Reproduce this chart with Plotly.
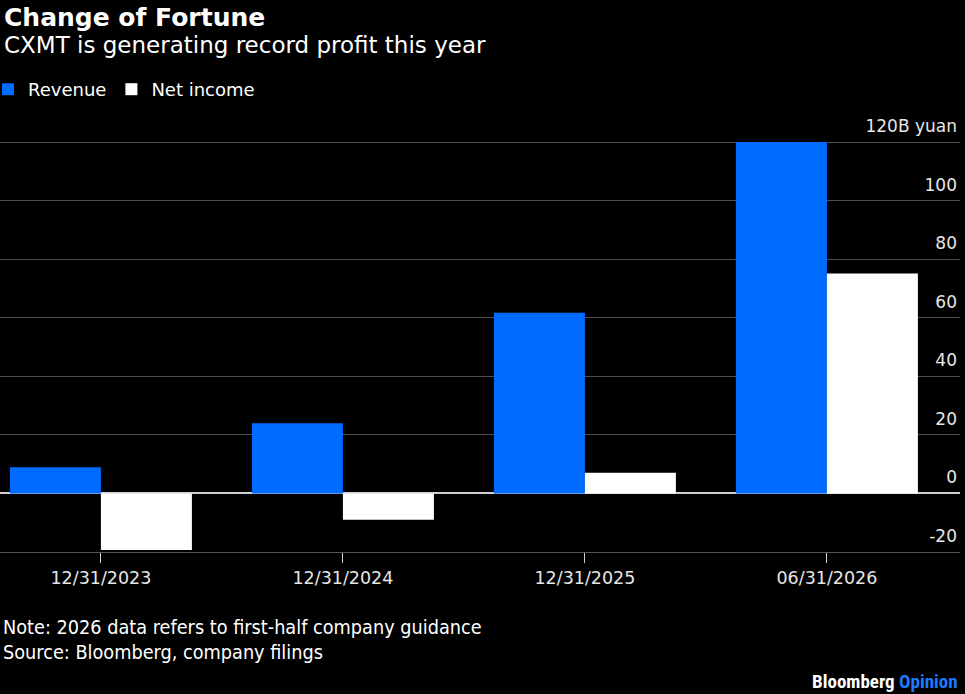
import plotly.graph_objects as go

categories = ["12/31/2023", "12/31/2024", "12/31/2025", "06/31/2026"]
revenue = [8.9, 24.0, 61.7, 120.0]
net_income = [-19.3, -9.0, 7.1, 75.1]
y_tickvals = [-20, 0, 20, 40, 60, 80, 100, 120]
y_ticktext = ["-20", "0", "20", "40", "60", "80", "100", "120B yuan"]

BLUE = "#006bff"
FONT = "DejaVu Sans, Verdana, sans-serif"
NOTE = "DejaVu Sans Condensed, Roboto, sans-serif"
NARROW = "Liberation Sans Narrow, Roboto Condensed, Roboto, sans-serif"

fig = go.Figure()
fig.add_trace(go.Bar(x=categories, y=revenue, name="Revenue", marker=dict(color=BLUE, line=dict(width=0))))
fig.add_trace(go.Bar(x=categories, y=net_income, name="Net income", marker=dict(color="#ffffff", line=dict(width=0))))

W, H = 965, 694
PT, PB = 139, 552  # plot area top/bottom in px
PW = 960
Y_TOP = 120 + (142 - PT) / ((PB - 142) / 140.0)


def py(px):
    return (PB - px) / (PB - PT)


fig.update_layout(
    width=W, height=H,
    paper_bgcolor="#000000", plot_bgcolor="#000000",
    margin=dict(l=0, r=W - PW, t=PT, b=H - PB, autoexpand=False),
    barmode="group", bargap=0.248, bargroupgap=0,
    showlegend=True,
    legend=dict(orientation="h", x=-12 / PW, xanchor="left", y=py(71), yanchor="top",
                font=dict(family=FONT, size=18, color="#ffffff"), bgcolor="rgba(0,0,0,0)",
                itemclick=False, itemwidth=30, traceorder="normal"),
    font=dict(family=FONT, color="#e6e6e6"),
)
fig.update_xaxes(
    type="category", range=[-0.417, 3.55],
    showgrid=False, showline=True, linecolor="#555555", linewidth=1,
    ticks="outside", ticklen=10, tickcolor="#cccccc", tickwidth=1,
    tickfont=dict(family=FONT, size=17.5, color="#e6e6e6"),
    zeroline=False, fixedrange=True,
)
fig.update_yaxes(
    range=[-20, Y_TOP], side="right",
    tickvals=y_tickvals, ticktext=y_ticktext,
    ticklabelposition="inside top", ticklabeloverflow="allow", ticklabelshift=-4,
    tickfont=dict(family=FONT, size=17, color="#e6e6e6"),
    showgrid=True, gridcolor="#4d4d4d", gridwidth=1,
    zeroline=True, zerolinecolor="#cfcfcf", zerolinewidth=1.5,
    showline=False, ticks="", fixedrange=True,
)

annos = [
    dict(text="<b>Change of Fortune</b>", x=2, y=1, size=25, family=FONT, color="#ffffff"),
    dict(text="CXMT is generating record profit this year", x=2, y=30, size=23, family=FONT, color="#ffffff"),
    dict(text="Note: 2026 data refers to first-half company guidance", x=1, y=614, size=19.7, family=NOTE, color="#ffffff"),
    dict(text="Source: Bloomberg, company filings", x=1, y=639, size=19.7, family=NOTE, color="#ffffff"),
]
for a in annos:
    fig.add_annotation(text=a["text"], xref="paper", yref="paper", x=a["x"] / PW, y=py(a["y"]),
                       xanchor="left", yanchor="top", showarrow=False,
                       font=dict(family=a["family"], size=a["size"], color=a["color"]))
fig.add_annotation(text="<b>Bloomberg <span style='color:#1a7cff'>Opinion</span></b>",
                   xref="paper", yref="paper", x=1.0, y=py(668), xanchor="right", yanchor="top",
                   showarrow=False, font=dict(family=NARROW, size=19, color="#ffffff"))

fig.write_html("out.html", config={"displayModeBar": False})
